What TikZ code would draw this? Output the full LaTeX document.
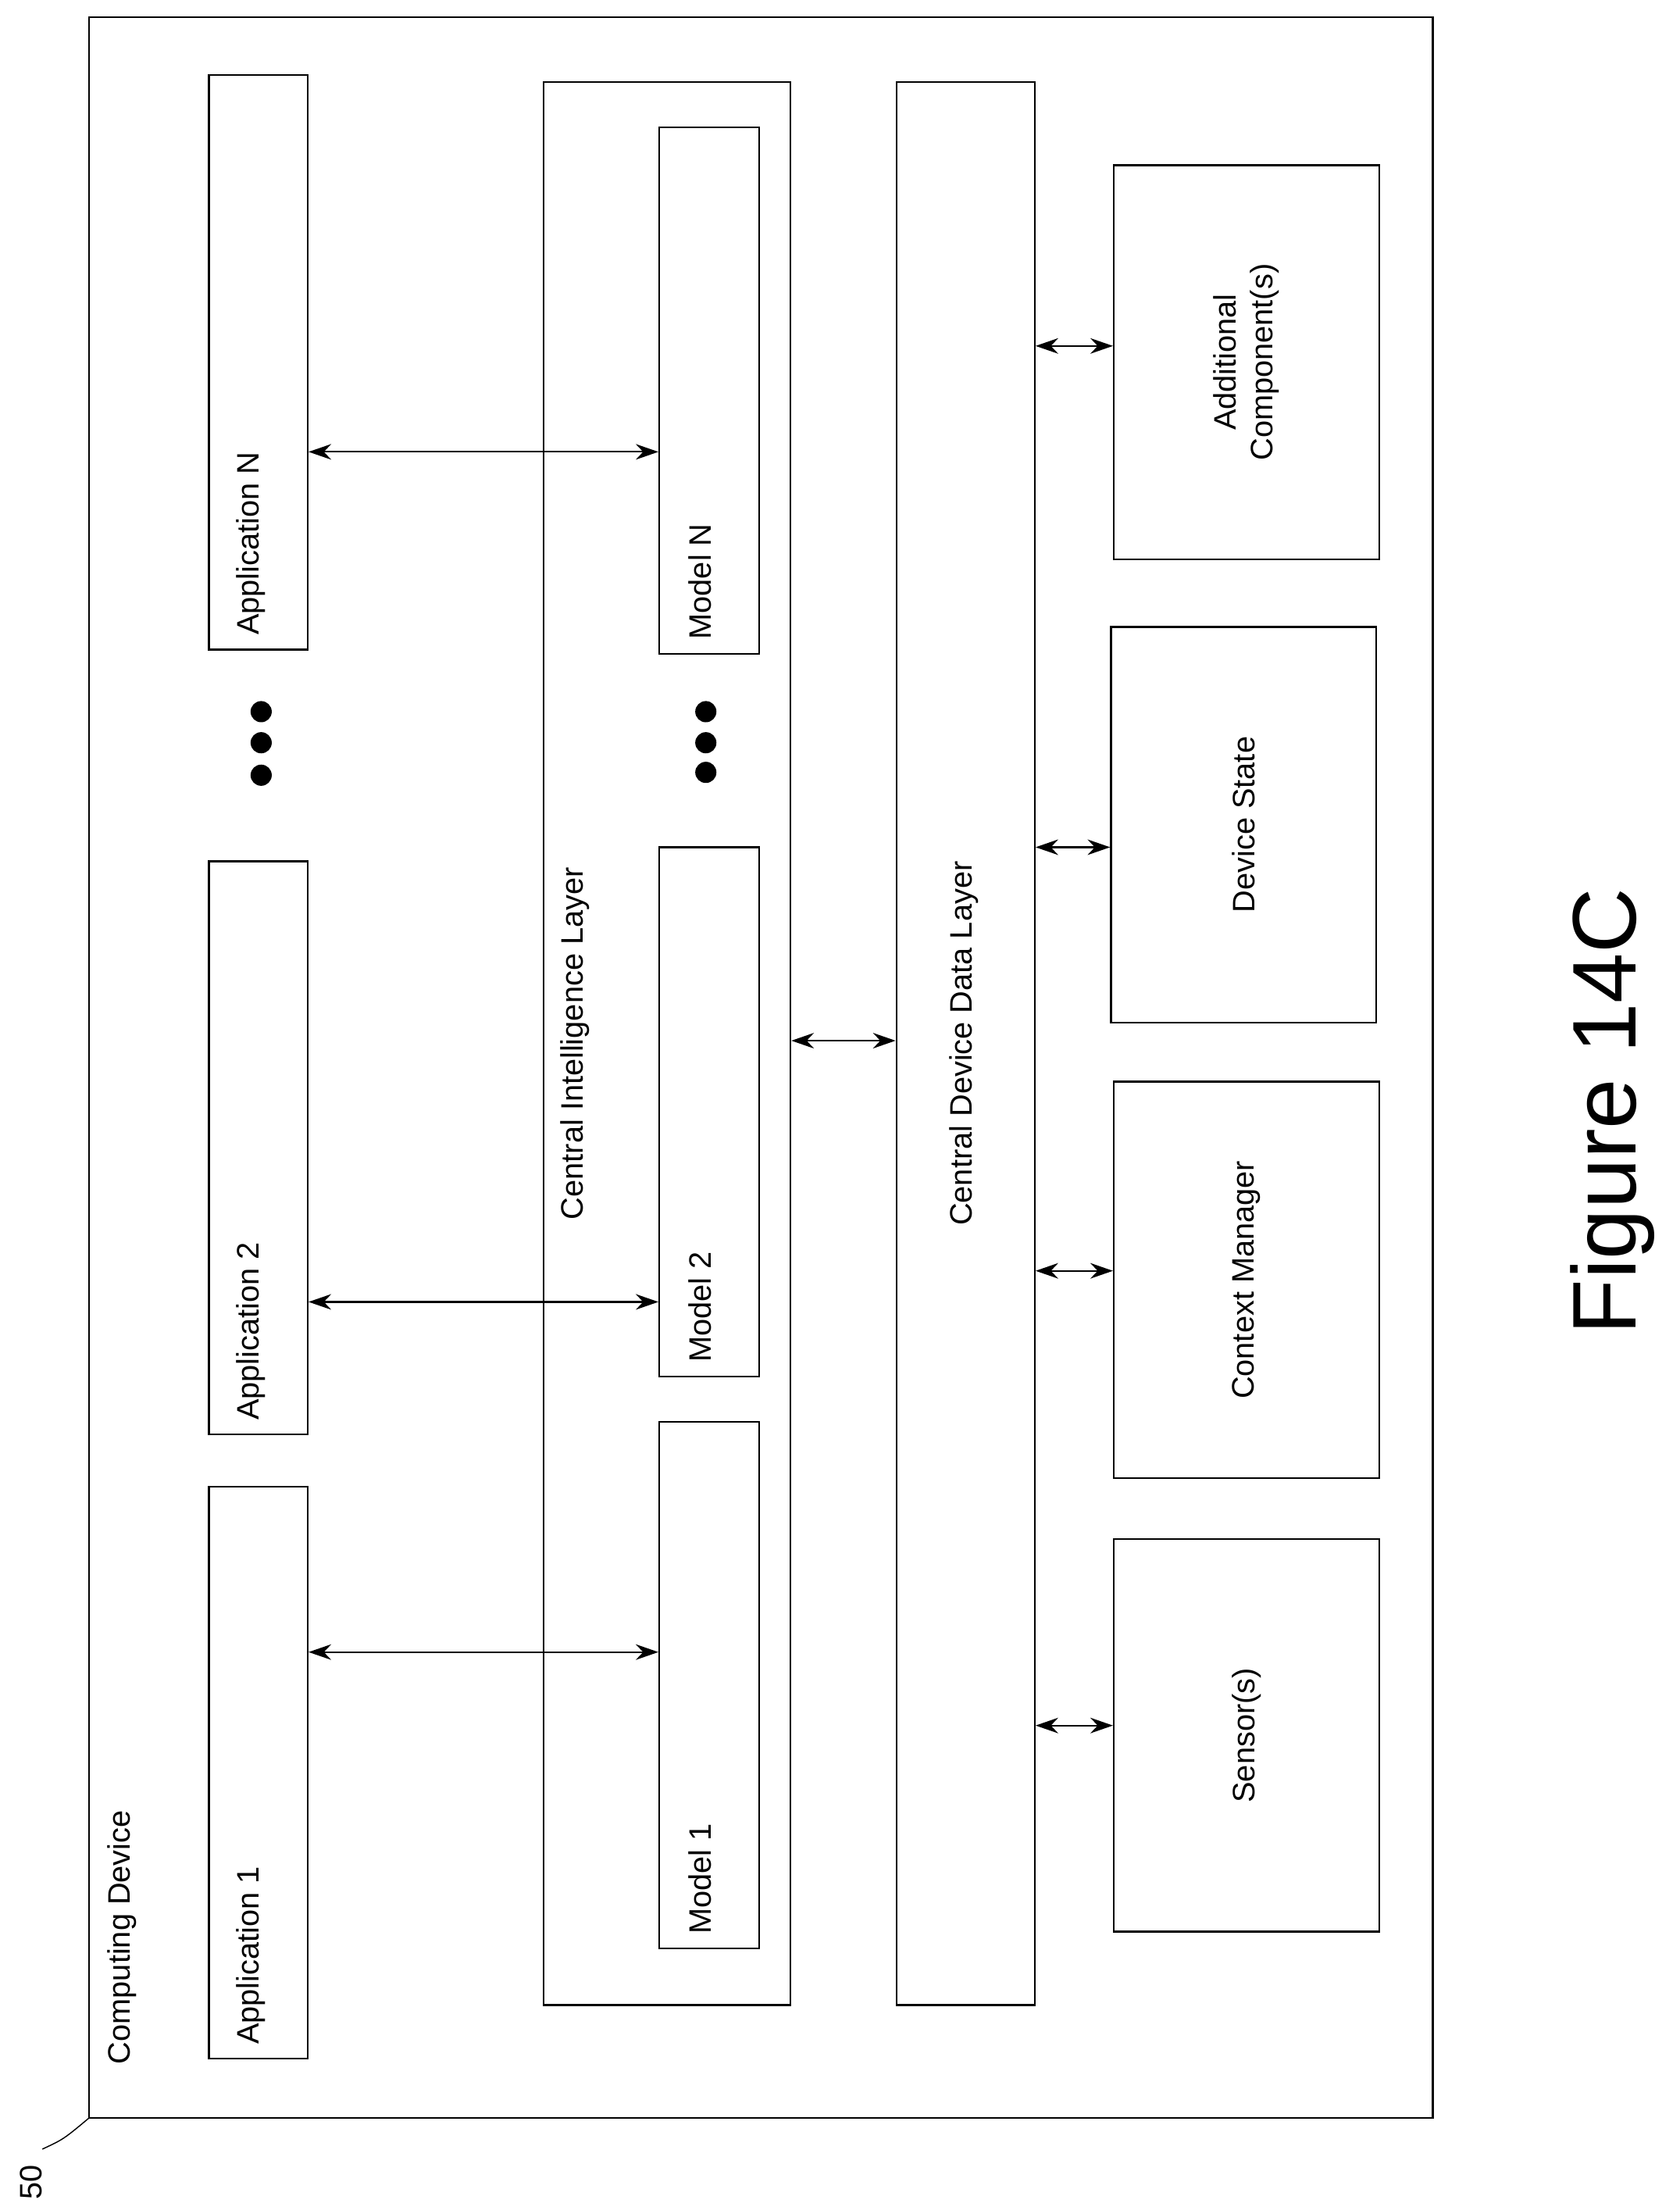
\documentclass[tikz,border=0pt]{standalone}
\usepackage{fontspec}
\setmainfont{Liberation Sans}
\usetikzlibrary{arrows.meta,positioning}

\begin{document}
\begin{tikzpicture}[x=1pt,y=-1pt]
	\useasboundingbox (0,0) rectangle (1190,1563);
	\begin{scope}
		[
			styleBox/.style={draw, line width=1.2pt, inner sep=0pt},
			styleText/.style={rotate=90, font=\fontsize{22}{26}\selectfont, inner sep=0pt},
			styleDot/.style={circle, fill, inner sep=0pt, minimum size=15pt},
		]
		% outer device
		\draw[styleBox] (63,12) rectangle (1015,1500);
		\node(dev)[styleText, anchor=south west] at (97,1462) {Computing Device};
		\node(ref)[styleText, anchor=south west] at (30,1558) {50};
		\draw[line width=0.8pt] (30,1522) .. controls (45,1515) .. (63,1500);

		% applications
		\node(app1)[styleBox, minimum width=70pt, minimum height=405pt] at (183,1255.5) {};
		\node(app2)[styleBox, minimum width=70pt, minimum height=406pt] at (183,813) {};
		\node(appN)[styleBox, minimum width=70pt, minimum height=407pt] at (183,256.5) {};
		\node[styleText, anchor=south west] at (188,1448) {Application 1};
		\node[styleText, anchor=south west] at (188,1006) {Application 2};
		\node[styleText, anchor=south west] at (188,450) {Application N};
		\foreach \y in {504,526,549} \node[styleDot] at (185,\y) {};

		% central intelligence layer
		\node(cil)[styleBox, minimum width=175pt, minimum height=1362pt] at (472.5,739) {};
		\node[styleText, anchor=south] at (418,739) {Central Intelligence Layer};
		\node(mod1)[styleBox, minimum width=71pt, minimum height=373pt] at (502.5,1193.5) {};
		\node(mod2)[styleBox, minimum width=71pt, minimum height=375pt] at (502.5,787.5) {};
		\node(modN)[styleBox, minimum width=71pt, minimum height=373pt] at (502.5,276.5) {};
		\node[styleText, anchor=south west] at (504,1370) {Model 1};
		\node[styleText, anchor=south west] at (504,965) {Model 2};
		\node[styleText, anchor=south west] at (504,453) {Model N};
		\foreach \y in {504,526,547} \node[styleDot] at (500,\y) {};

		% central device data layer
		\node(cddl)[styleBox, minimum width=98pt, minimum height=1362pt] at (684,739) {};
		\node[styleText] at (683,739) {Central Device Data Layer};

		% components
		\node(add)[styleBox, minimum width=188pt, minimum height=279pt] at (883,256.5) {};
		\node(state)[styleBox, minimum width=188pt, minimum height=280pt] at (881,584) {};
		\node(ctx)[styleBox, minimum width=188pt, minimum height=281pt] at (883,906.5) {};
		\node(sens)[styleBox, minimum width=188pt, minimum height=278pt] at (883,1229) {};
		\node[styleText, align=center] at (883,256.5) {Additional\\Component(s)};
		\node[styleText] at (881,584) {Device State};
		\node[styleText] at (883,906.5) {Context Manager};
		\node[styleText] at (883,1229) {Sensor(s)};

		\node(fig)[rotate=90, font=\fontsize{64}{72}\selectfont] at (1142,787) {Figure 14C};
	\end{scope}
	\begin{scope}
		[ link/.style = {{Stealth[length=16pt,width=11pt]}-{Stealth[length=16pt,width=11pt]}, line width=1.2pt}]
		\path
		(app1.east |- 0,1170) edge[link] (mod1.west |- 0,1170)
		(app2.east |- 0,922) edge[link] (mod2.west |- 0,922)
		(appN.east |- 0,320) edge[link] (modN.west |- 0,320)
		(cil.east |- 0,737) edge[link] (cddl.west |- 0,737)
		(cddl.east |- 0,245) edge[link] (add.west |- 0,245)
		(cddl.east |- 0,600) edge[link] (state.west |- 0,600)
		(cddl.east |- 0,900) edge[link] (ctx.west |- 0,900)
		(cddl.east |- 0,1222) edge[link] (sens.west |- 0,1222);
	\end{scope}
\end{tikzpicture}
\end{document}
